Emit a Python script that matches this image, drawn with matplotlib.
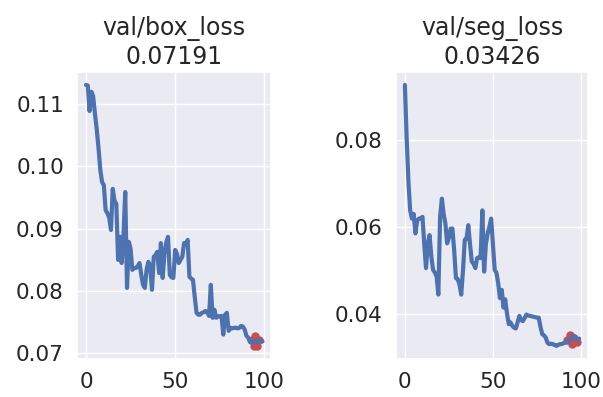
import matplotlib
matplotlib.use("Agg")
import matplotlib.pyplot as plt
import seaborn as sns
import numpy as np

sns.set_theme(style="darkgrid")
plt.rcParams['font.family'] = ['DejaVu Sans']

# val/box_loss per epoch
box_loss = [0.1131, 0.1130, 0.1089, 0.1120, 0.1113, 0.1085, 0.1060, 0.1030, 0.0995, 0.0975,
            0.0970, 0.0930, 0.0925, 0.0918, 0.0898, 0.0964, 0.0945, 0.0940, 0.0850, 0.0887,
            0.0845, 0.0887, 0.0959, 0.0805, 0.0879, 0.0868, 0.0834, 0.0837, 0.0837, 0.0840,
            0.0845, 0.0826, 0.0810, 0.0805, 0.0835, 0.0847, 0.0840, 0.0802, 0.0855, 0.0858,
            0.0863, 0.0829, 0.0877, 0.0821, 0.0860, 0.0878, 0.0887, 0.0826, 0.0822, 0.0821,
            0.0866, 0.0860, 0.0845, 0.0850, 0.0855, 0.0877, 0.0875, 0.0882, 0.0823, 0.0820,
            0.0818, 0.0790, 0.0765, 0.0762, 0.0762, 0.0765, 0.0766, 0.0768, 0.0766, 0.0760,
            0.0810, 0.0757, 0.0770, 0.0757, 0.0760, 0.0759, 0.0760, 0.0730, 0.0762, 0.0765,
            0.0736, 0.0741, 0.0740, 0.0741, 0.0741, 0.0740, 0.0741, 0.0744, 0.0743, 0.0738,
            0.0728, 0.0725, 0.0718, 0.0717, 0.0720, 0.0719, 0.0718, 0.0721, 0.0719, 0.07191]

# val/seg_loss per epoch
seg_loss = [0.0927, 0.0805, 0.0706, 0.0638, 0.0619, 0.0630, 0.0585, 0.0615, 0.0619, 0.0620,
            0.0623, 0.0560, 0.0505, 0.0562, 0.0581, 0.0532, 0.0501, 0.0495, 0.0486, 0.0444,
            0.0623, 0.0665, 0.0630, 0.0608, 0.0562, 0.0575, 0.0596, 0.0596, 0.0545, 0.0482,
            0.0480, 0.0467, 0.0444, 0.0500, 0.0570, 0.0573, 0.0604, 0.0560, 0.0520, 0.0515,
            0.0505, 0.0528, 0.0530, 0.0528, 0.0638, 0.0497, 0.0560, 0.0585, 0.0600, 0.0619,
            0.0560, 0.0501, 0.0494, 0.0470, 0.0436, 0.0455, 0.0414, 0.0433, 0.0400, 0.0376,
            0.0380, 0.0372, 0.0368, 0.0366, 0.0380, 0.0395, 0.0385, 0.0383, 0.0390, 0.0398,
            0.0396, 0.0395, 0.0394, 0.0393, 0.0392, 0.0391, 0.0391, 0.0370, 0.0353, 0.0350,
            0.0345, 0.0333, 0.0330, 0.0331, 0.0330, 0.0328, 0.0326, 0.0328, 0.0330, 0.0330,
            0.0332, 0.0333, 0.0334, 0.0336, 0.0341, 0.0345, 0.0349, 0.0345, 0.0341, 0.03426]

# red points near the end
box_red_x = [93, 94, 95, 96, 97]
box_red_y = [0.0722, 0.0712, 0.0728, 0.0712, 0.0722]
seg_red_x = [92, 94, 95, 96, 98]
seg_red_y = [0.0340, 0.0352, 0.0330, 0.0345, 0.0335]

epochs = np.arange(len(box_loss))

fig = plt.figure(figsize=(6.03, 3.97), dpi=100)
ax1 = fig.add_axes([0.128, 0.096, 0.322, 0.723])
ax2 = fig.add_axes([0.657, 0.096, 0.318, 0.723])

panels = [
    (ax1, box_loss, box_red_x, box_red_y, 'val/box_loss', [0.07, 0.08, 0.09, 0.10, 0.11]),
    (ax2, seg_loss, seg_red_x, seg_red_y, 'val/seg_loss', [0.04, 0.06, 0.08]),
]
for ax, vals, rx, ry, name, yt in panels:
    ax.plot(rx, ry, 'o', color='#C44E52', markersize=5, zorder=2)
    ax.plot(epochs, vals, color='#4C72B0', linewidth=3, solid_capstyle='round',
            solid_joinstyle='round', zorder=3)
    ax.set_title(f'{name}\n{vals[-1]:.5f}', fontsize=17, color='.15')
    ax.set_xticks([0, 50, 100])
    ax.set_yticks(yt)
    ax.tick_params(labelsize=15.5)

fig.savefig('out.png', dpi=100)
